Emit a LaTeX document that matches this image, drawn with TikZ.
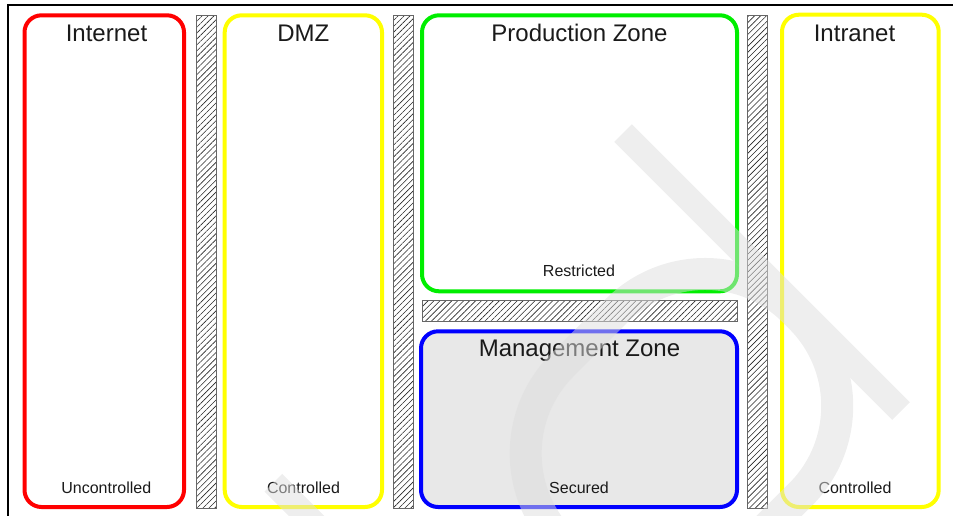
\documentclass[tikz,border=0pt]{standalone}
\usepackage{fontspec}
\setmainfont{Liberation Sans}
\usetikzlibrary{patterns.meta}
\definecolor{zonered}{RGB}{255,0,0}
\definecolor{zoneyellow}{RGB}{255,255,0}
\definecolor{zonegreen}{RGB}{0,238,0}
\definecolor{zoneblue}{RGB}{0,0,255}
\definecolor{mgmtfill}{RGB}{232,232,232}
\definecolor{inktext}{RGB}{26,26,26}
\definecolor{markgray}{RGB}{222,222,222}
\tikzset{
  zone/.style={draw, line width=4pt, rounded corners=17pt, inner sep=0pt, outer sep=0pt},
  wall/.style={draw=black!60, line width=0.7pt, inner sep=0pt, outer sep=0pt,
    pattern={Lines[angle=45,distance=4.2pt,line width=0.6pt]}, pattern color=black!85},
  title/.style={anchor=base, text=inktext, font=\fontsize{24}{28}\selectfont, inner sep=0pt},
  level/.style={anchor=base, text=inktext, font=\fontsize{16}{19}\selectfont, inner sep=0pt},
  wmark/.style={fill=markgray, fill opacity=0.5},
  wmarkstroke/.style={draw=markgray, draw opacity=0.5, line width=32pt},
}
\begin{document}
\begin{tikzpicture}[x=1pt,y=-1pt]
\useasboundingbox (0,0) rectangle (953,515);
% page frame
\draw[line width=1.2pt] (8,530) -- (8,5) -- (965,5);

% security zones
\node[zone, draw=zonered, minimum width=159.5pt, minimum height=491.7pt] (internet) at (104.25,261.15) {};
\node[zone, draw=zoneyellow, minimum width=157.3pt, minimum height=491.7pt] (dmz) at (303.35,261.15) {};
\node[zone, draw=zonegreen, minimum width=315pt, minimum height=276pt] (prod) at (579.5,153.3) {};
\node[zone, draw=zoneblue, fill=mgmtfill, minimum width=316pt, minimum height=175.7pt] (mgmt) at (579,419.15) {};
\node[zone, draw=zoneyellow, minimum width=156.7pt, minimum height=492.3pt] (intranet) at (860.35,260.85) {};

% firewalls
\node[wall, minimum width=20pt, minimum height=493pt] (fw1) at (206,261.5) {};
\node[wall, minimum width=20pt, minimum height=493pt] (fw2) at (403,261.5) {};
\node[wall, minimum width=20pt, minimum height=493pt] (fw3) at (757,261.5) {};
\node[wall, minimum width=315.5pt, minimum height=21pt] (fw4) at (579.75,310.5) {};

% zone names
\node[title] (tInternet) at (106.5,41.7) {Internet};
\node[title] (tDmz) at (303.4,41.7) {DMZ};
\node[title] (tProd) at (579.5,41.7) {Production Zone};
\node[title] (tMgmt) at (579.5,356) {Management Zone};
\node[title] (tIntranet) at (854.5,41.7) {Intranet};

% trust levels
\node[level] (lInternet) at (106.3,493.3) {Uncontrolled};
\node[level] (lDmz) at (303.5,493.3) {Controlled};
\node[level] (lProd) at (579,276) {Restricted};
\node[level] (lMgmt) at (579,493.3) {Secured};
\node[level] (lIntranet) at (855,493.3) {Controlled};

% faint diagonal lettering on top (u along the writing line, v up the letters)
\begin{scope}[shift={(901,411)}, x={(0.7071pt,0.7071pt)}, y={(-0.7071pt,0.7071pt)}]
  \fill[wmark] (-12.5,0) -- (12.5,0) -- (12.5,393) -- (-12.5,393) -- cycle;
  \begin{scope}
    \clip (-700,-100) -- (-12.5,-100) -- (-12.5,500) -- (-700,500) -- cycle;
    \draw[wmarkstroke, rounded corners=125pt] (-332,12) -- (-5,12) -- (-5,272) -- (-332,272) -- cycle;
  \end{scope}
  \fill[wmark] (-507,0) -- (-482,0) -- (-482,393) -- (-507,393) -- cycle;
\end{scope}
\end{tikzpicture}
\end{document}
